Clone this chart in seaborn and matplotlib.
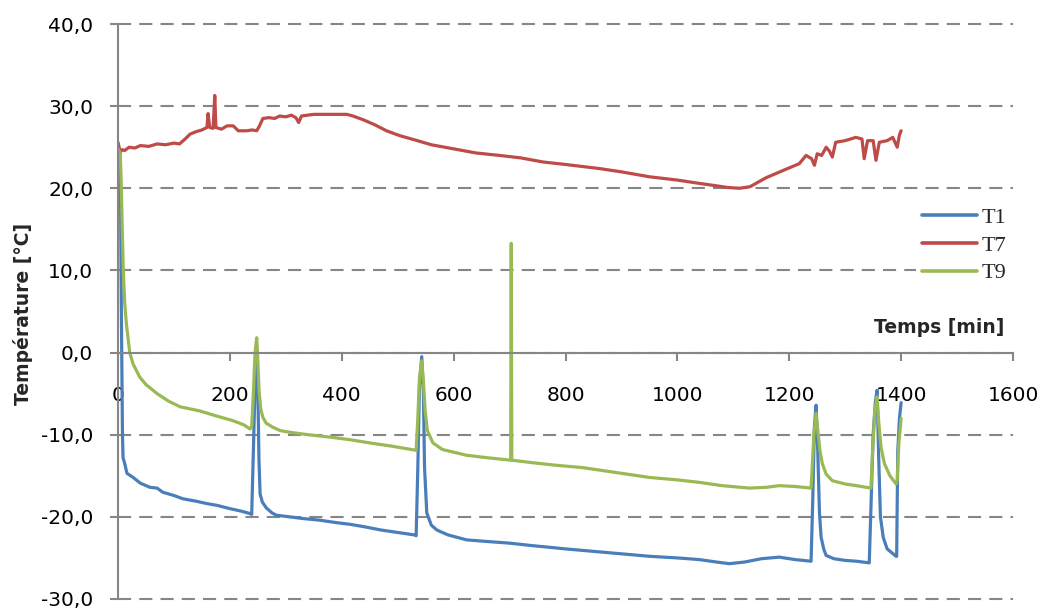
import pandas as pd
import seaborn as sns
import matplotlib.pyplot as plt
from matplotlib.ticker import FuncFormatter, MultipleLocator

# values (time in min, temperature in °C)
t1_time = [0, 4, 6, 8, 9, 12, 16, 27, 40, 57, 70, 80, 100, 116, 140, 160, 177, 200, 220,
           236, 239, 242, 245, 248, 250, 252, 254, 258, 265, 275, 283, 295, 307, 330, 360,
           390, 414, 440, 470, 500, 530, 533, 536, 539, 543, 546, 548, 552, 560, 570, 590,
           623, 660, 700, 740, 771, 800, 850, 900, 950, 1000, 1039, 1070, 1093, 1120, 1150,
           1182, 1210, 1239, 1242, 1245, 1248, 1251, 1254, 1257, 1262, 1266, 1280, 1300,
           1320, 1343, 1346, 1350, 1354, 1357, 1360, 1363, 1368, 1375, 1391, 1392, 1394,
           1397, 1400]
t1_temp = [24.8, 24.5, 5.0, -10.0, -12.8, -13.5, -14.7, -15.2, -15.9, -16.4, -16.5, -17.0,
           -17.4, -17.8, -18.1, -18.4, -18.6, -19.0, -19.3, -19.6, -19.7, -12.0, -4.0, -0.5,
           -4.5, -13.0, -17.2, -18.2, -18.9, -19.5, -19.8, -19.9, -20.0, -20.2, -20.4, -20.7,
           -20.9, -21.2, -21.6, -21.9, -22.2, -22.3, -14.0, -4.0, -0.5, -5.0, -14.0, -19.5,
           -21.0, -21.6, -22.2, -22.8, -23.0, -23.2, -23.5, -23.7, -23.9, -24.2, -24.5,
           -24.8, -25.0, -25.2, -25.5, -25.7, -25.5, -25.1, -24.9, -25.2, -25.4, -18.0,
           -9.0, -6.4, -12.0, -19.5, -22.5, -24.0, -24.7, -25.1, -25.3, -25.4, -25.6, -19.0,
           -10.0, -6.0, -4.6, -13.0, -20.0, -22.5, -23.9, -24.8, -24.8, -12.0, -8.0, -6.1]

t7_time = [0, 2, 4, 8, 12, 20, 30, 40, 55, 70, 85, 100, 110, 120, 129, 140, 150, 159, 161,
           164, 170, 173, 175, 185, 195, 206, 215, 230, 240, 248, 253, 259, 270, 280, 289,
           300, 310, 318, 323, 328, 350, 380, 409, 420, 440, 460, 480, 504, 530, 560, 600,
           640, 682, 720, 760, 800, 861, 900, 950, 1000, 1039, 1070, 1090, 1111, 1130, 1159,
           1190, 1218, 1230, 1240, 1245, 1250, 1258, 1266, 1272, 1277, 1283, 1300, 1319,
           1330, 1334, 1340, 1350, 1355, 1361, 1375, 1385, 1393, 1397, 1400]
t7_temp = [25.6, 25.0, 24.4, 24.7, 24.6, 25.0, 24.9, 25.2, 25.1, 25.4, 25.3, 25.5, 25.4,
           26.0, 26.6, 26.9, 27.1, 27.4, 29.1, 27.4, 27.3, 31.3, 27.4, 27.2, 27.6, 27.6,
           27.0, 27.0, 27.1, 27.0, 27.6, 28.5, 28.6, 28.5, 28.8, 28.7, 28.9, 28.6, 28.0,
           28.8, 29.0, 29.0, 29.0, 28.8, 28.3, 27.7, 27.0, 26.4, 25.9, 25.3, 24.8, 24.3,
           24.0, 23.7, 23.2, 22.9, 22.4, 22.0, 21.4, 21.0, 20.6, 20.3, 20.1, 20.0, 20.2,
           21.3, 22.2, 23.0, 24.0, 23.6, 22.8, 24.2, 24.0, 25.0, 24.5, 23.8, 25.6, 25.8,
           26.2, 26.0, 23.6, 25.8, 25.8, 23.4, 25.6, 25.8, 26.2, 25.0, 26.5, 27.0]

t9_time = [0, 4, 6, 8, 9.5, 12, 15, 21, 27, 39, 50, 70, 90, 111, 146, 175, 206, 225, 236,
           239, 242, 245, 248, 250, 252, 255, 259, 265, 277, 290, 307, 340, 380, 414, 450,
           490, 533, 536, 539, 543, 546, 549, 553, 563, 580, 623, 660, 702, 703, 704, 740,
           780, 830, 880, 950, 1000, 1039, 1080, 1129, 1160, 1182, 1210, 1239, 1241, 1244,
           1248, 1251, 1255, 1259, 1266, 1277, 1300, 1320, 1346, 1349, 1353, 1357, 1360,
           1364, 1370, 1380, 1391, 1393, 1396, 1400]
t9_temp = [24.8, 24.3, 20.0, 14.0, 10.0, 6.0, 3.5, 0.0, -1.4, -3.0, -3.9, -5.0, -5.9, -6.6,
           -7.1, -7.7, -8.3, -8.8, -9.3, -9.0, -5.0, 0.0, 1.8, -1.0, -4.5, -6.8, -7.9, -8.6,
           -9.1, -9.5, -9.7, -10.0, -10.3, -10.6, -11.0, -11.4, -11.9, -8.0, -3.0, -1.0,
           -3.5, -7.0, -9.5, -11.0, -11.8, -12.5, -12.8, -13.1, 13.3, -13.1, -13.4, -13.7,
           -14.0, -14.5, -15.2, -15.5, -15.8, -16.2, -16.5, -16.4, -16.2, -16.3, -16.5,
           -14.0, -10.0, -7.4, -9.5, -12.0, -13.5, -14.8, -15.6, -16.0, -16.2, -16.5, -12.0,
           -7.0, -5.4, -8.5, -11.5, -13.5, -15.0, -16.0, -15.5, -11.0, -8.0]

sensors = ["T1", "T7", "T9"]
colors = ["#4A7EBB", "#BE4B48", "#98B954"]

df = pd.concat([
    pd.DataFrame({"time": t1_time, "temp": t1_temp, "sensor": "T1"}),
    pd.DataFrame({"time": t7_time, "temp": t7_temp, "sensor": "T7"}),
    pd.DataFrame({"time": t9_time, "temp": t9_temp, "sensor": "T9"}),
], ignore_index=True)

sns.set_theme(style="white")
plt.rcParams["font.family"] = ["DejaVu Sans"]

fig = plt.figure(figsize=(10.43, 6.10), dpi=100)
ax = fig.add_axes([118 / 1043, 11 / 610, 895 / 1043, 575 / 610])

sns.lineplot(data=df, x="time", y="temp", hue="sensor", hue_order=sensors,
             palette=colors, estimator=None, sort=False, linewidth=2.3, ax=ax)

axis_gray = "#868686"
ax.set_xlim(0, 1600)
ax.set_ylim(-30, 40)
ax.xaxis.set_major_locator(MultipleLocator(200))
ax.yaxis.set_major_locator(MultipleLocator(10))
ax.yaxis.set_major_formatter(FuncFormatter(lambda v, p: f"{v:.1f}".replace(".", ",")))

ax.grid(axis="y", color=axis_gray, linewidth=1.5, linestyle=(0, (6.3, 3.9)))
for gl in ax.get_ygridlines():
    gl.set_clip_on(False)

for side in ["top", "right"]:
    ax.spines[side].set_visible(False)
ax.spines["bottom"].set_position(("data", 0))
for side in ["left", "bottom"]:
    ax.spines[side].set_color(axis_gray)
    ax.spines[side].set_linewidth(1.5)

ax.tick_params(axis="both", direction="out", length=5.8, width=1.5, color=axis_gray,
               labelsize=14.5, labelcolor="black")
ax.tick_params(axis="x", pad=18, bottom=True)
ax.tick_params(axis="y", pad=12, left=True)

ax.set_xlabel("")
ax.set_ylabel("Température [°C]", fontsize=13.5, fontweight="bold")
ax.yaxis.set_label_coords(-0.095, 0.495)
ax.text(1585, 3.0, "Temps [min]", ha="right", va="center", fontsize=13.5, fontweight="bold")

old = ax.get_legend()
handles = old.legend_handles
labels = [t.get_text() for t in old.get_texts()]
old.remove()
leg = ax.legend(handles, labels, loc="center left", bbox_to_anchor=(0.878, 0.5975),
                bbox_transform=fig.transFigure, frameon=True, framealpha=1,
                edgecolor="none", facecolor="white", borderaxespad=0, borderpad=0.3,
                handlelength=2.45, handletextpad=0.2, labelspacing=0.32,
                prop={"family": "Liberation Serif", "size": 16})
for h in leg.legend_handles:
    h.set_linewidth(2.6)

fig.savefig("out.png", dpi=100)
